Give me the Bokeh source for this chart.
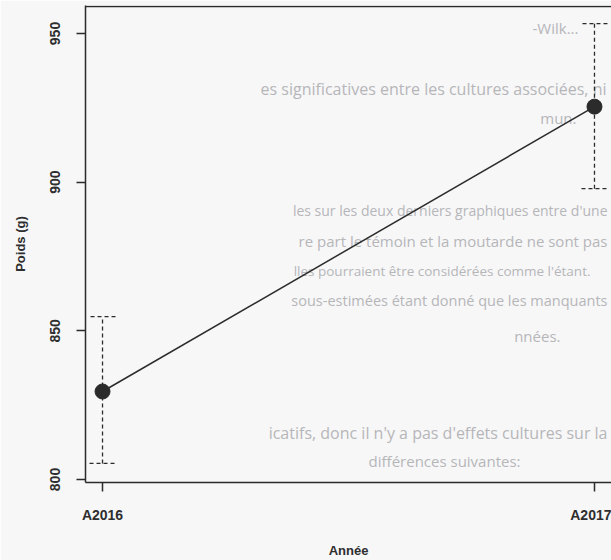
from bokeh.plotting import figure
from bokeh.models import Range1d, FixedTicker, Whisker, TeeHead, ColumnDataSource, Span, Label
from bokeh.embed import file_html
from bokeh.resources import INLINE

# ---- data ----
years = ["A2016", "A2017"]
mean_weight = [829.6, 925.4]
lower_ci = [805.4, 897.8]
upper_ci = [854.8, 953.3]
y_ticks = [800, 850, 900, 950]

# faint show-through text of the scanned page
bleed_lines = [
    "-Wilk...",
    "es significatives entre les cultures associées, ni",
    "mun.",
    "les sur les deux derniers graphiques entre d'une",
    "re part le témoin et la moutarde ne sont pas",
    "lles pourraient être considérées comme l'étant.",
    "sous-estimées étant donné que les manquants",
    "nnées.",
    "icatifs, donc il n'y a pas d'effets cultures sur la",
    "différences suivantes:",
]

# layout of the show-through text (page pixels: right x, centre y, font px)
bleed_pos = [(578, 27, 15), (606, 88, 16), (576, 117, 15), (607, 210, 14), (607, 240, 15),
             (590, 270, 13.5), (607, 300, 14.5), (560, 335, 15), (607, 432, 16),
             (520, 460, 15)]

x = list(range(1, len(years) + 1))
src = ColumnDataSource(dict(x=x, mean=mean_weight, lower=lower_ci, upper=upper_ci))

INK = "#2b2b2b"
TXT = "#2e2e2e"
GHOST = "#b6b6b9"
BG = "#f7f7f8"
W, H = 611, 560
LEFT, TOP, BOTTOM = 85, 5, 78
X0, X1 = 0.9654, 2.0346
Y0, Y1 = 798.99, 959.42

p = figure(width=W, height=H, output_backend="svg", toolbar_location=None,
           x_range=Range1d(X0, X1), y_range=Range1d(Y0, Y1),
           min_border_left=LEFT, min_border_right=0, min_border_top=TOP,
           min_border_bottom=BOTTOM,
           background_fill_color=BG, border_fill_color=BG)
p.outline_line_color = None
p.grid.visible = False

fw, fh = W - LEFT, H - BOTTOM - TOP


def to_data(px, py):
    return (X0 + (px - LEFT) / fw * (X1 - X0), Y1 - (py - TOP) / fh * (Y1 - Y0))


# show-through text (under the marks)
for txt, (px, py, fs) in zip(bleed_lines, bleed_pos):
    dx, dy = to_data(px, py)
    p.add_layout(Label(x=dx, y=dy, text=txt, text_baseline="middle", text_align="right",
                       text_font="Open Sans", text_font_size=f"{fs}px", text_color=GHOST,
                       level="underlay"))

# top frame line
p.add_layout(Span(location=Y1 - 0.3, dimension="width", line_color=INK, line_width=1.5))

# error bars (dashed)
wh = Whisker(source=src, base="x", upper="upper", lower="lower",
             line_color=INK, line_width=1.3, line_dash="4 3",
             upper_head=TeeHead(size=26, line_color=INK, line_width=1.3, line_dash="4 3"),
             lower_head=TeeHead(size=26, line_color=INK, line_width=1.3, line_dash="4 3"))
p.add_layout(wh)

p.line("x", "mean", source=src, line_color=INK, line_width=1.5)
p.scatter("x", "mean", source=src, size=15, fill_color=INK, line_color=INK)

# axes
p.xaxis.ticker = FixedTicker(ticks=x)
p.xaxis.major_label_overrides = {xi: lab for xi, lab in zip(x, years)}
p.yaxis.ticker = FixedTicker(ticks=y_ticks)
p.yaxis.major_label_orientation = "vertical"
p.xaxis.axis_label = "Année"
p.yaxis.axis_label = "Poids (g)"
for ax in (p.xaxis[0], p.yaxis[0]):
    ax.axis_line_color = INK
    ax.axis_line_width = 1.5
    ax.major_tick_line_color = INK
    ax.major_tick_line_width = 1.5
    ax.major_tick_out = 9
    ax.major_tick_in = 0
    ax.minor_tick_line_color = None
    ax.major_label_text_font = "Liberation Sans"
    ax.major_label_text_font_size = "14px"
    ax.major_label_text_font_style = "bold"
    ax.major_label_text_color = TXT
    ax.axis_label_text_font = "Liberation Sans"
    ax.axis_label_text_font_size = "13px"
    ax.axis_label_text_font_style = "bold"
    ax.axis_label_text_color = TXT
p.yaxis.major_label_standoff = 16
p.yaxis.axis_label_standoff = 20
p.xaxis.major_label_standoff = 15
p.xaxis.axis_label_standoff = 17

open("out.html", "w").write(file_html(p, INLINE))
